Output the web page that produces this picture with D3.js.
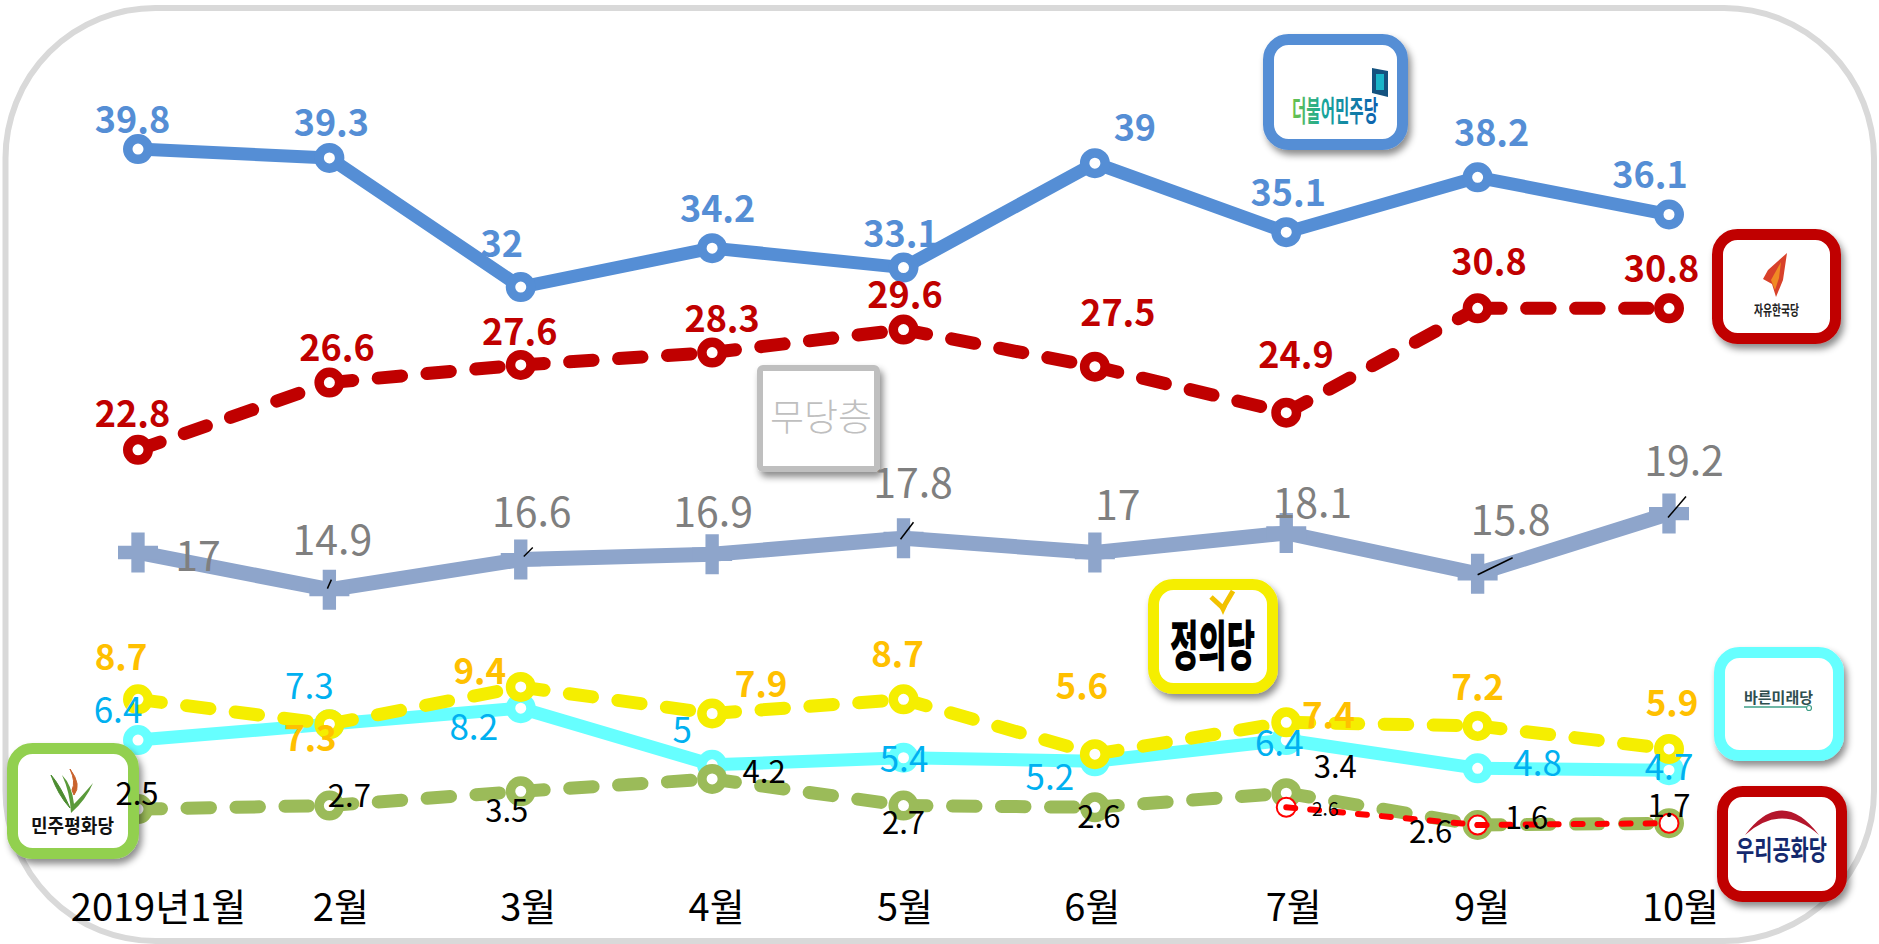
<!DOCTYPE html>
<html lang="ko">
<head>
<meta charset="utf-8">
<title>정당 지지도 2019</title>
<script src="https://cdn.jsdelivr.net/npm/d3@7/dist/d3.min.js"></script>
<style>
html,body{margin:0;padding:0;background:#fff;overflow:hidden}
svg{display:block}
text{font-family:"Noto Sans CJK KR","Noto Sans",sans-serif}
</style>
</head>
<body>
<svg id="chart" width="1879" height="944"></svg>
<script>
// ---------- data ----------
const months = ["2019년1월","2월","3월","4월","5월","6월","7월","9월","10월"];
const minjoo   = [39.8,39.3,32,34.2,33.1,39,35.1,38.2,36.1];
const hankook  = [22.8,26.6,27.6,28.3,29.6,27.5,24.9,30.8,30.8];
const noParty  = [17,14.9,16.6,16.9,17.8,17,18.1,15.8,19.2];
const justice  = [8.7,7.3,9.4,7.9,8.7,5.6,7.4,7.2,5.9];
const bareun   = [6.4,7.3,8.2,5,5.4,5.2,6.4,4.8,4.7];
const peace    = [2.5,2.7,3.5,4.2,2.7,2.6,3.4,1.6,1.7];
const peaceLabels = ["2.5","2.7","3.5","4.2","2.7","2.6","3.4","2.6",null];
const woori    = [null,null,null,null,null,null,2.6,1.6,1.7];

// ---------- label placement relative to each point ----------
const minjooDx=[-5.5,2,-19,5.5,-2.5,40,2,14,-19],   minjooDy=[-29,-35,-43,-39,-34,-35,-39,-44,-40];
const hankookDx=[-5.5,7.6,-1,10,1.5,23,9.7,11.4,-7.4], hankookDy=[-36,-35,-33,-33.5,-35,-54,-58,-46,-39];
const noPartyDx=[60,3,11,1,9.5,23,26,33,15],        noPartyDy=[3.5,-50,-48,-42,-55,-47,-30,-54,-53];
const justiceDx=[-17,-19,-41,49,-6,-13,42,0,3],     justiceDy=[-42,14,-16,-29.5,-45,-68,-7,-39,-46];
const bareunDx=[-20,-20,-47,-30,0.5,-45,-7,60,0],   bareunDy=[-30,-38,19,-35,1,16,3,-5,-3];
const peaceDx=[-1,20,-14,52,0,4,49,-47,0],          peaceDy=[-15,-9.5,19,-7,17.5,9,-26,7,0];
const wooriDx=[0,0,0,0,0,0,39,49,0],                wooriDy=[0,0,0,0,0,0,2,-7,-18];
const tickDx=[20,11,7,4,1,-3,7,4,11];
const leaderOffsets=[[1,-2,-1,2,-10],[2,3,-3,12,-12],[4,-3,1,10,-16],[7,0,1,35,-16],[8,-1,4,17,-17]];

// ---------- scales ----------
const x=d3.scalePoint().domain(months).range([138,1669]);
const y=d3.scaleLinear().domain([0,40]).range([853.3,145.5]);
const svg=d3.select("#chart");

const defs=svg.append("defs");
const sh=defs.append("filter").attr("id","shadow").attr("x","-20%").attr("y","-20%").attr("width","150%").attr("height","150%");
sh.append("feDropShadow").attr("dx",3).attr("dy",5).attr("stdDeviation",3.5).attr("flood-color","#000").attr("flood-opacity",.45);
const grad=defs.append("linearGradient").attr("id","minjooGrad");
grad.append("stop").attr("offset","0").attr("stop-color","#6cc24a");
grad.append("stop").attr("offset","0.35").attr("stop-color","#1aa89a");
grad.append("stop").attr("offset","1").attr("stop-color","#0d5fb0");

// frame
svg.append("rect").attr("x",5.5).attr("y",8).attr("width",1868.5).attr("height",933)
  .attr("rx",150).attr("ry",150).attr("fill","#fff").attr("stroke","#d9d9d9").attr("stroke-width",6);

// ---------- series ----------
const line=d3.line().x(d=>x(d.m)).y(d=>y(d.v));
const pts=vals=>vals.map((v,i)=>({m:months[i],v,i})).filter(d=>d.v!=null);

function drawSeries(vals,o){
  const p=pts(vals), g=svg.append("g").attr("class","series");
  const drawLine=()=>{
    if(o.dash){
      g.selectAll("path.seg").data(d3.pairs(p)).join("path").attr("class","seg")
       .attr("d",line).attr("fill","none").attr("stroke",o.color).attr("stroke-width",o.w)
       .attr("stroke-linecap","round").attr("stroke-dasharray",o.dash);
    }else{
      g.append("path").datum(p).attr("d",line).attr("fill","none").attr("stroke",o.color)
       .attr("stroke-width",o.w).attr("stroke-linejoin","round");
    }
  };
  if(!o.markerFirst) drawLine();
  if(o.cross){
    g.selectAll("path.mk").data(p).join("path").attr("class","mk")
     .attr("d",d3.symbol(d3.symbolCross,889)).attr("fill",o.color)
     .attr("transform",d=>`translate(${x(d.m)},${y(d.v)})`);
  }else{
    g.selectAll("circle").data(p).join("circle")
     .attr("cx",d=>x(d.m)).attr("cy",d=>y(d.v)).attr("r",o.r)
     .attr("fill","#fff").attr("stroke",o.color).attr("stroke-width",o.sw);
  }
  if(o.markerFirst) drawLine();
}
drawSeries(noParty,{color:"#8ea5cb",w:15,cross:true});
drawSeries(minjoo,{color:"#558ed5",w:13,r:10.25,sw:9.5});
drawSeries(hankook,{color:"#c00000",w:13,r:10.25,sw:9.5,dash:"23.5 25.5"});
drawSeries(bareun,{color:"#66ffff",w:13,r:10.25,sw:9.5});
drawSeries(justice,{color:"#f5ee00",w:13,r:10.25,sw:9.5,dash:"23.5 25.5"});
drawSeries(peace,{color:"#9bbb59",w:13,r:10.25,sw:9.5,dash:"23.5 25.5"});
drawSeries(woori,{color:"#ff0000",w:6,r:9.5,sw:2,dash:"9 15",markerFirst:true});

// leader lines for the grey series
svg.append("g").selectAll("line").data(leaderOffsets).join("line")
  .attr("x1",d=>x(months[d[0]])+d[1]).attr("y1",d=>y(noParty[d[0]])+d[2])
  .attr("x2",d=>x(months[d[0]])+d[3]).attr("y2",d=>y(noParty[d[0]])+d[4])
  .attr("stroke","#000").attr("stroke-width",1.5);

// ---------- party logos ----------
function logo(x0,y0,w,h,color,bw,rad){
  const g=svg.append("g");
  g.append("rect").attr("x",x0+bw/2).attr("y",y0+bw/2).attr("width",w-bw).attr("height",h-bw)
   .attr("rx",rad==null?20:rad).attr("ry",rad==null?20:rad).attr("fill","#fff").attr("stroke",color).attr("stroke-width",bw)
   .attr("filter","url(#shadow)");
  return g;
}
function squeezed(g,t,x0,x1,base,size,fill,weight){
  g.append("text").attr("x",x0).attr("y",base).attr("font-size",size).attr("font-weight",weight||700)
   .attr("fill",fill).attr("textLength",x1-x0).attr("lengthAdjust","spacingAndGlyphs").text(t);
}
// 더불어민주당
let g=logo(1263,34,145,116,"#558ed5",11);
squeezed(g,"더불어민주당",1292,1378,122,29,"url(#minjooGrad)");
g.append("path").attr("d","M1372,68 L1388,71 L1388,97 L1372,93 Z").attr("fill","#14527f");
g.append("rect").attr("x",1376).attr("y",74).attr("width",8).attr("height",16).attr("fill","#19b5c9");
// 자유한국당
g=logo(1712,229,129,115,"#c00000",11);
g.append("path").attr("d","M1787,253 L1783,280 L1776,297 L1772,284 L1763,279 L1768,270 Z").attr("fill","#d8412a");
g.append("path").attr("d","M1781,262 L1779,278 L1775,290 L1771,280 Z").attr("fill","#f08a24");
squeezed(g,"자유한국당",1754,1799,315,14,"#222");
// 무당층
g=logo(757,365,123,107,"#bfbfbf",6,3);
g.append("text").attr("x",821).attr("y",431).attr("text-anchor","middle").attr("font-size",37)
 .attr("font-weight",300).attr("fill","#bfbfbf").text("무당층");
// 정의당
g=logo(1148,579,130,115,"#f5ee00",11);
g.append("path").attr("d","M1211,597 L1223,608 L1233,591").attr("fill","none").attr("stroke","#f2c200").attr("stroke-width",5);
g.append("path").attr("d","M1219,606 L1223,615 L1227,606 Z").attr("fill","#f2c200");
squeezed(g,"정의당",1170,1255,666,54,"#000",900);
// 바른미래당
g=logo(1714,647,130,114,"#66ffff",11);
squeezed(g,"바른미래당",1744,1813,703,15,"#2f4f4f");
g.append("line").attr("x1",1744).attr("x2",1806).attr("y1",707).attr("y2",707).attr("stroke","#3f9f88").attr("stroke-width",1.6);
g.append("circle").attr("cx",1809).attr("cy",708).attr("r",2.5).attr("fill","#fff").attr("stroke","#3f9f88").attr("stroke-width",1.2);
// 우리공화당
g=logo(1717,786,130,116,"#c00000",11);
g.append("path").attr("d","M1745,835 Q1782,786 1819,835 Q1782,802 1745,835 Z").attr("fill","#b4162c");
squeezed(g,"우리공화당",1736,1827,860,27,"#14296e");
// 민주평화당
g=logo(7,743,132,116,"#92d050",11);
g.append("path").attr("d","M71,813 Q86,800 93,783 Q82,796 74,804 Q72,785 62,775 Q70,792 71,813 Z").attr("fill","#5a9a3a");
g.append("path").attr("d","M70,808 Q58,795 51,775 Q60,785 70,808 Z").attr("fill","#4c8c30").attr("stroke","#4c8c30");
g.append("path").attr("d","M74,795 Q82,785 70,769 Q76,782 72,790 Z").attr("fill","#c9622c").attr("stroke","#c9622c");
squeezed(g,"민주평화당",31,114,833,19,"#111");

// ---------- value labels ----------
function drawLabels(vals,texts,dx,dy,o){
  const rows=vals.map((v,i)=>({v,i,t:texts[i]})).filter(d=>d.v!=null&&d.t!=null);
  svg.append("g").selectAll("text").data(rows).join("text")
   .attr("x",d=>x(months[d.i])+dx[d.i]).attr("y",d=>y(d.v)+dy[d.i]).attr("dy",".365em")
   .attr("text-anchor","middle").attr("font-size",d=>o.sizeOf?o.sizeOf(d):o.size)
   .attr("font-weight",o.weight).attr("fill",o.color).text(d=>d.t);
}
const str=a=>a.map(v=>v==null?null:String(v));
drawLabels(minjoo,str(minjoo),minjooDx,minjooDy,{size:36,weight:700,color:"#558ed5"});
drawLabels(hankook,str(hankook),hankookDx,hankookDy,{size:36,weight:700,color:"#c00000"});
drawLabels(noParty,str(noParty),noPartyDx,noPartyDy,{size:41,weight:400,color:"#7f7f7f"});
drawLabels(justice,str(justice),justiceDx,justiceDy,{size:35,weight:700,color:"#ffc000"});
drawLabels(bareun,str(bareun),bareunDx,bareunDy,{size:35,weight:400,color:"#00b0f0"});
drawLabels(peace,peaceLabels,peaceDx,peaceDy,{size:31,weight:400,color:"#000"});
drawLabels(woori,str(woori),wooriDx,wooriDy,{sizeOf:d=>d.i===6?19:31,weight:400,color:"#000"});

// ---------- month axis ----------
const axis=svg.append("g").attr("transform","translate(0,907)").call(d3.axisBottom(x).tickSize(0).tickPadding(0));
axis.select(".domain").remove();
axis.selectAll("text").attr("font-size",38).attr("font-family",'"Noto Sans CJK KR"').attr("fill","#000")
  .attr("y",0).attr("dy",".36em").attr("dx",(d,i)=>tickDx[i]);
</script>
</body>
</html>
